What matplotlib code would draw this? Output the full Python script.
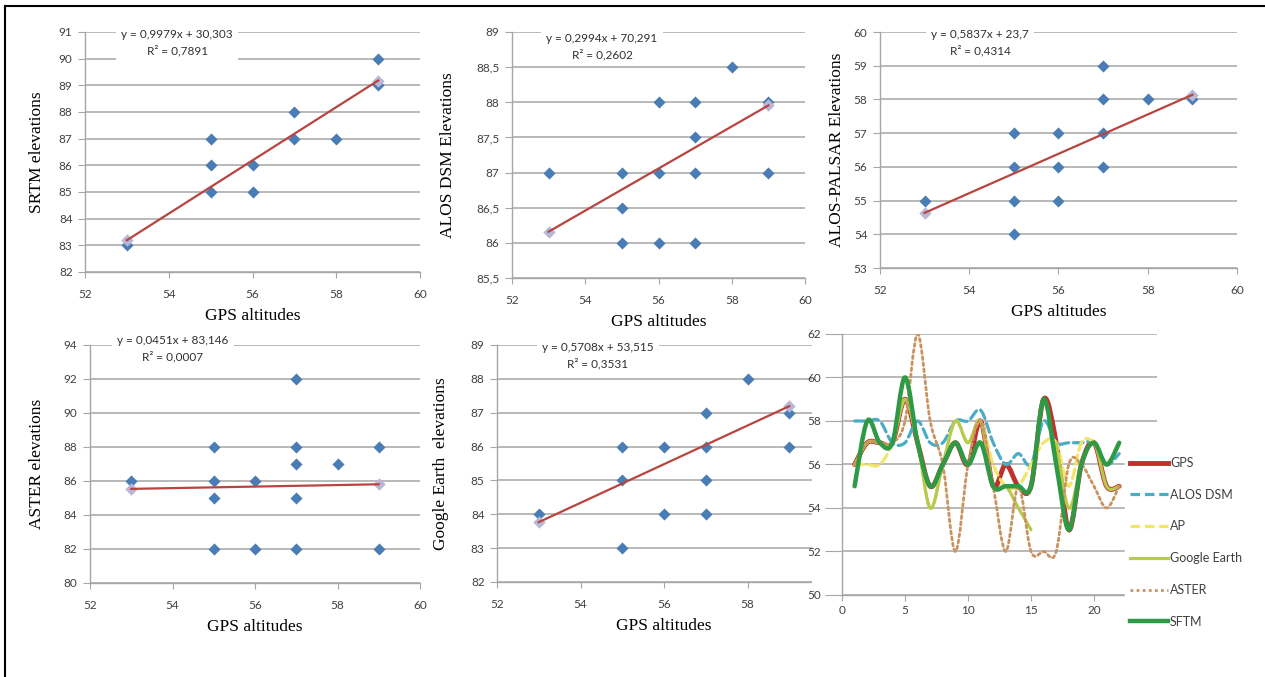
import numpy as np
import matplotlib
matplotlib.use("Agg")
import matplotlib.pyplot as plt
from matplotlib.path import Path
from matplotlib.patches import PathPatch, Rectangle
from matplotlib.lines import Line2D
from matplotlib.ticker import FuncFormatter, MultipleLocator

#%% scatter data: GPS altitude (x) against each elevation source (y)
srtm_x = [53, 55, 55, 55, 56, 56, 57, 57, 58, 59, 59]
srtm_y = [83, 87, 86, 85, 86, 85, 88, 87, 87, 90, 89]

dsm_x = [53, 55, 55, 55, 56, 56, 56, 57, 57, 57, 57, 58, 59, 59]
dsm_y = [87, 87, 86.5, 86, 88, 87, 86, 88, 87.5, 87, 86, 88.5, 88, 87]

palsar_x = [53, 55, 55, 55, 55, 56, 56, 56, 57, 57, 57, 57, 58, 59]
palsar_y = [55, 57, 56, 55, 54, 57, 56, 55, 59, 58, 57, 56, 58, 58]

aster_x = [53, 55, 55, 55, 55, 56, 56, 57, 57, 57, 57, 57, 58, 59, 59]
aster_y = [86, 88, 86, 85, 82, 86, 82, 92, 88, 87, 85, 82, 87, 88, 82]

ge_x = [53, 55, 55, 55, 56, 56, 57, 57, 57, 57, 58, 59, 59]
ge_y = [84, 86, 85, 83, 86, 84, 87, 86, 85, 84, 88, 87, 86]

# trend lines as printed on the chart
slopes = [0.9979, 0.2994, 0.5837, 0.0451, 0.5708]
intercepts = [30.303, 70.291, 23.7, 83.146, 53.515]
eq_text = ["y = 0,9979x + 30,303", "y = 0,2994x + 70,291", "y = 0,5837x + 23,7",
           "y = 0,0451x + 83,146", "y = 0,5708x + 53,515"]
r2_text = ["R² = 0,7891", "R² = 0,2602", "R² = 0,4314", "R² = 0,0007", "R² = 0,3531"]

#%% profile data (point number 1..22)
pts = list(range(1, 23))
gps =   [56, 57, 57, 57, 59, 57, 55, 56, 57, 56, 58, 55, 56, 55, 55, 59, 57, 53, 56, 57, 55, 55]
alos =  [58, 58, 58, 57, 57, 58, 57, 57, 58, 58, 58.5, 57, 56, 56.5, 56, 58, 57, 57, 57, 57, 56, 56.5]
ap =    [56, 56, 56, 57, 59, 57, 54, 56, 58, 57, 58, 56, 55, 55, 56, 57, 57, 55, 57, 57, 56, 57]
gearth = [56, 57, 57, 57, 59, 57, 54, 56, 58, 57, 58, 55, 55, 54, 53, np.nan, 57, 54, 56, 57, 55, 55]
aster = [56, 57, 57, 57, 58, 62, 58, 56, 52, 56, 58, 55, 52, 55, 52, 52, 52, 56, 56, 55, 54, 55]
sftm =  [55, 58, 57, 57, 60, 57, 55, 56, 57, 56, 57, 55, 55, 55, 55, 59, 56, 53, 56, 57, 56, 57]

W, H = 1265, 677
serif = "Liberation Serif"
sans = "Lato"
grid_c = "#a6a6a6"
tick_c = "#404040"

fig = plt.figure(figsize=(W / 100, H / 100), dpi=100)


def px_rect(x0, y0, x1, y1):
    # pixel box (top-left origin) -> figure fraction rect
    return [x0 / W, 1 - y1 / H, (x1 - x0) / W, (y1 - y0) / H]


comma = FuncFormatter(lambda v, p: ("%g" % v).replace(".", ","))


def style_axes(ax, tick_len_y=5, xpad=8):
    for s in ["top", "right"]:
        ax.spines[s].set_visible(False)
    for s in ["left", "bottom"]:
        ax.spines[s].set_color(grid_c)
        ax.spines[s].set_linewidth(1.0)
    ax.yaxis.grid(True, color=grid_c, linewidth=1.1)
    ax.set_axisbelow(True)
    ax.tick_params(axis="y", length=tick_len_y, color=grid_c, labelsize=8.5,
                   labelcolor=tick_c, pad=4)
    ax.tick_params(axis="x", length=4, color=grid_c, labelsize=8.5,
                   labelcolor=tick_c, pad=xpad)
    for lab in ax.get_xticklabels() + ax.get_yticklabels():
        lab.set_fontfamily(sans)


def scatter_panel(rect, xs, ys, k, ylab, ylim, ystep, eq_xy, ylab_x):
    ax = fig.add_axes(rect)
    ax.set_xlim(52, 60)
    ax.set_ylim(*ylim)
    ax.xaxis.set_major_locator(MultipleLocator(2))
    ax.yaxis.set_major_locator(MultipleLocator(ystep))
    ax.yaxis.set_major_formatter(comma)
    ax.scatter(xs, ys, marker="D", s=38, color="#4a7db5", zorder=3, linewidths=0)
    ends = np.array([min(xs), max(xs)])
    pred = slopes[k] * ends + intercepts[k]
    ax.scatter(ends, pred, marker="D", s=40, color="#b9b7d6", zorder=3, linewidths=0)
    ax.plot(ends, pred, color="#b8443f", linewidth=1.6, zorder=4)
    ax.text(eq_xy[0], eq_xy[1], eq_text[k] + "\n" + r2_text[k], transform=ax.transAxes,
            ha="center", va="center", fontsize=8.5, fontfamily=sans, color="#303030",
            linespacing=1.45, zorder=5,
            bbox=dict(facecolor="white", edgecolor="none", pad=4))
    ax.set_xlabel("GPS altitudes", fontfamily=serif, fontsize=12.5, labelpad=6)
    ax.set_ylabel(ylab, fontfamily=serif, fontsize=12.5)
    ax.yaxis.set_label_coords(ylab_x, 0.5)
    style_axes(ax)
    return ax


scatter_panel(px_rect(85, 32, 420, 272), srtm_x, srtm_y, 0, "SRTM elevations",
              (82, 91), 1, (0.275, 0.955), -0.12)
scatter_panel(px_rect(512, 32, 805, 278), dsm_x, dsm_y, 1, "ALOS DSM Elevations",
              (85.5, 89), 0.5, (0.307, 0.94), -0.19)
scatter_panel(px_rect(880, 32, 1237, 268), palsar_x, palsar_y, 2, "ALOS-PALSAR Elevations",
              (53, 60), 1, (0.28, 0.955), -0.097)
scatter_panel(px_rect(90, 345, 420, 583), aster_x, aster_y, 3, "ASTER elevations",
              (80, 94), 2, (0.2515, 0.985), -0.135)
scatter_panel(px_rect(497, 345, 831, 582), ge_x, ge_y, 4, "Google Earth  elevations",
              (82, 89), 1, (0.302, 0.955), -0.145)

# white panel behind the profile chart, it overlaps the Google Earth panel
fig.patches.append(Rectangle((812 / W, 1 - 640 / H), (W - 812) / W, (640 - 326) / H,
                             transform=fig.transFigure, facecolor="white",
                             edgecolor="none", zorder=1))

#%% profile chart with smoothed lines
ax6 = fig.add_axes(px_rect(842, 334, 1157, 595))
ax6.set_zorder(2)
ax6.set_xlim(0, 25)
ax6.set_ylim(50, 62)
ax6.xaxis.set_major_locator(MultipleLocator(5))
ax6.yaxis.set_major_locator(MultipleLocator(2))
style_axes(ax6, tick_len_y=12, xpad=3)
ax6.tick_params(axis="y", pad=3)


def smooth_path(xs, ys):
    # bezier curve through the points (excel style smoothing), split at gaps
    verts, codes = [], []
    seg = []
    for x, y in list(zip(xs, ys)) + [(None, None)]:
        if x is None or np.isnan(y):
            if len(seg) > 1:
                p = np.array(seg, dtype=float)
                n = len(p)
                verts.append(p[0]); codes.append(Path.MOVETO)
                for i in range(n - 1):
                    p0 = p[i - 1] if i > 0 else p[i]
                    p3 = p[i + 2] if i + 2 < n else p[i + 1]
                    c1 = p[i] + (p[i + 1] - p0) / 6
                    c2 = p[i + 1] - (p3 - p[i]) / 6
                    verts += [c1, c2, p[i + 1]]
                    codes += [Path.CURVE4] * 3
            seg = []
        else:
            seg.append((x, y))
    return Path(verts, codes)


series = [
    ("GPS", gps, "#c0302c", "-", 3.5),
    ("ALOS DSM", alos, "#4bacc6", (0, (3, 1.5)), 2.3),
    ("AP", ap, "#f3e46a", (0, (3, 1.5)), 2.3),
    ("Google Earth", gearth, "#b8c94e", "-", 2.3),
    ("ASTER", aster, "#c9925e", (0, (1, 1.2)), 2.0),
    ("SFTM", sftm, "#2e9a45", "-", 3.2),
]
draw_order = [1, 2, 3, 4, 0, 5]
handles = []
for name, vals, col, ls, lw in series:
    handles.append(Line2D([], [], color=col, linestyle=ls, linewidth=lw, label=name))
for i in draw_order:
    name, vals, col, ls, lw = series[i]
    ax6.add_patch(PathPatch(smooth_path(pts, vals), facecolor="none", edgecolor=col,
                            linestyle=ls, linewidth=lw, capstyle="round", zorder=3 + i))

leg = ax6.legend(handles=handles, loc="upper left",
                 bbox_to_anchor=(1125 / W, 1 - 452 / H), bbox_transform=fig.transFigure,
                 frameon=True, fancybox=False, edgecolor="white", facecolor="white",
                 framealpha=1, borderpad=0.4, labelspacing=1.58, handlelength=3.0,
                 handletextpad=0.2, borderaxespad=0,
                 prop={"family": sans, "size": 9})
for t in leg.get_texts():
    t.set_color(tick_c)

# page frame lines
fig.add_artist(Line2D([5 / W, 1], [1 - 6 / H, 1 - 6 / H], color="black", linewidth=1.5,
                      transform=fig.transFigure))
fig.add_artist(Line2D([5 / W, 5 / W], [0, 1 - 6 / H], color="black", linewidth=1.5,
                      transform=fig.transFigure))

fig.savefig("out.png", dpi=100)
